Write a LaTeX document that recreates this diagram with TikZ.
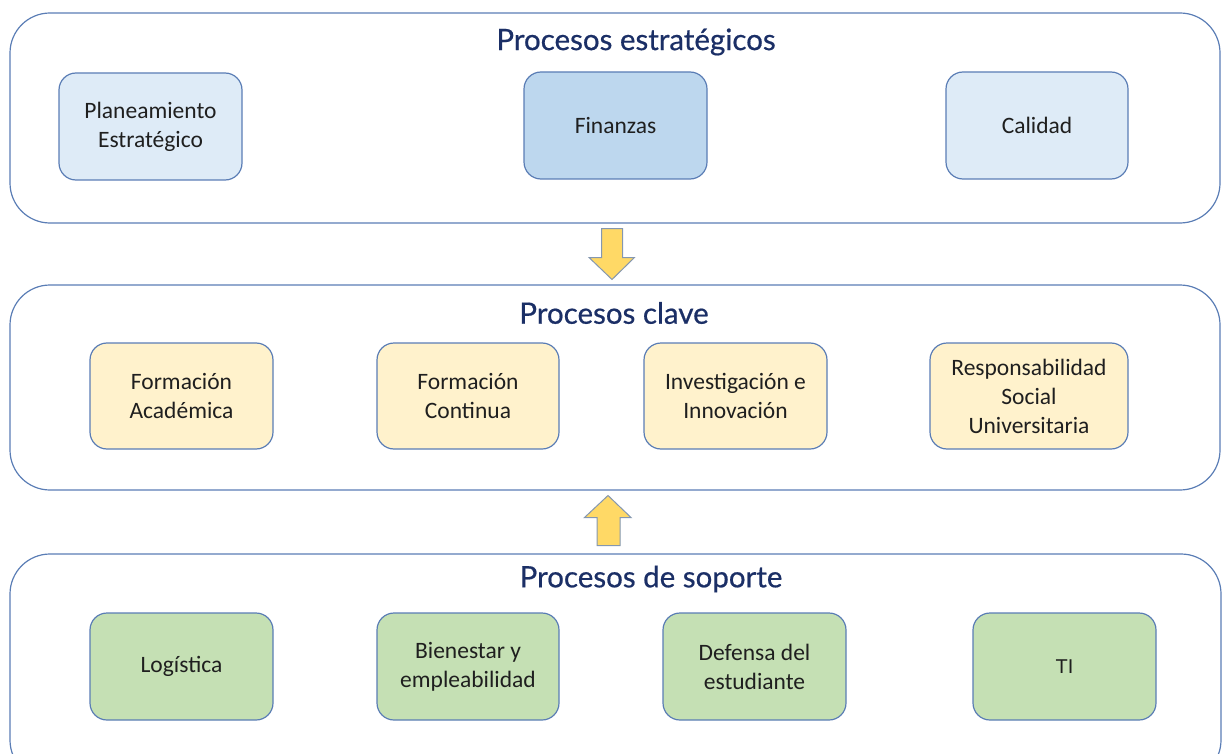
\documentclass[tikz,border=0pt]{standalone}
\usepackage{fontspec}
\setmainfont{Carlito}
\newfontfamily\titlefont[FakeBold=0.6]{Lato}
\newfontfamily\arialfont{Liberation Sans}
\definecolor{edge}{HTML}{5A7DB5}
\definecolor{titleblue}{HTML}{1B2F66}
\definecolor{lightblue}{HTML}{DEEBF7}
\definecolor{midblue}{HTML}{BDD7EE}
\definecolor{lightyellow}{HTML}{FFF2CC}
\definecolor{lightgreen}{HTML}{C5E0B4}
\definecolor{arrowfill}{HTML}{FFD966}
\definecolor{arrowedge}{HTML}{8497B0}
\begin{document}
\begin{tikzpicture}[x=1pt,y=-1pt,
  group/.style={draw=edge, line width=1.2pt, rounded corners=40pt},
  proc/.style={draw=edge, line width=1.2pt, rounded corners=17pt, align=center,
    inner sep=0pt, font=\fontsize{23.5}{29}\selectfont, text=black!88},
  grouptitle/.style={font=\titlefont\fontsize{29.5}{34}\selectfont, text=titleblue, inner sep=0pt},
  blockarrow/.style={draw=arrowedge, fill=arrowfill, line width=1pt, line join=miter}]
\useasboundingbox (0,0) rectangle (1228,754);
\begin{scope}
\clip (0,0) rectangle (1228,754);
% groups
\draw[group] (10,13) rectangle (1220,223);
\draw[group] (10,285) rectangle (1220,490);
\draw[group] (10,554) rectangle (1221,780);
\end{scope}
% titles
\node[grouptitle] (t1) at (636,42) {Procesos estratégicos};
\node[grouptitle] (t2) at (614,313) {Procesos clave};
\node[grouptitle] (t3) at (651,579) {Procesos de soporte};
% top row
\node[proc, fill=lightblue, minimum width=183pt, minimum height=107pt] (pe) at (150.5,126.5) {Planeamiento\\Estratégico};
\node[proc, fill=midblue, minimum width=183pt, minimum height=107pt] (fi) at (615.5,125.5) {Finanzas};
\node[proc, fill=lightblue, minimum width=182pt, minimum height=107pt] (ca) at (1037,125.5) {Calidad};
% middle row
\node[proc, fill=lightyellow, minimum width=183pt, minimum height=106pt] (fa) at (181.5,396) {Formación\\Académica};
\node[proc, fill=lightyellow, minimum width=182pt, minimum height=106pt] (fc) at (468,396) {Formación\\Continua};
\node[proc, fill=lightyellow, minimum width=183pt, minimum height=106pt] (ii) at (735.5,396) {Investigación e\\Innovación};
\node[proc, fill=lightyellow, minimum width=198pt, minimum height=106pt] (rs) at (1029,396) {Responsabilidad\\Social\\Universitaria};
% bottom row
\node[proc, fill=lightgreen, minimum width=183pt, minimum height=107pt] (lo) at (181.5,666.5) {Logística};
\node[proc, fill=lightgreen, minimum width=182pt, minimum height=107pt] (be) at (468,666.5) {Bienestar y\\empleabilidad};
\node[proc, fill=lightgreen, minimum width=183pt, minimum height=107pt] (de) at (754.5,666.5) {Defensa del\\estudiante};
\node[proc, fill=lightgreen, minimum width=183pt, minimum height=107pt, font=\arialfont\fontsize{20}{24}\selectfont] (ti) at (1064.5,666.5) {TI};
% block arrows
\draw[blockarrow] (601.5,228.5) -- (622.5,228.5) -- (622.5,257.5) -- (634.5,257.5) -- (612,279.5) -- (589,257.5) -- (601.5,257.5) -- cycle;
\draw[blockarrow] (597,545.5) -- (620,545.5) -- (620,517.5) -- (631,517.5) -- (608,495.5) -- (584.5,517.5) -- (597,517.5) -- cycle;
\end{tikzpicture}
\end{document}
